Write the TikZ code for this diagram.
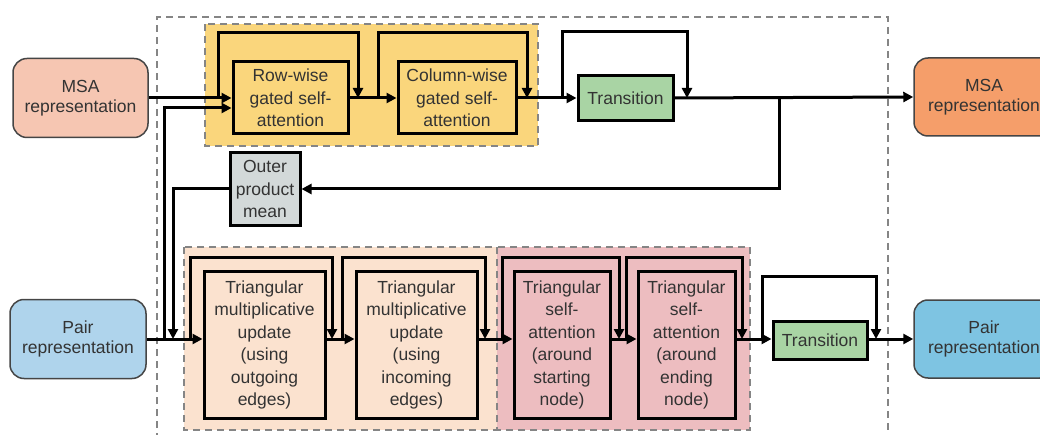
\documentclass[tikz,border=0pt]{standalone}
\usepackage{fontspec}
\setmainfont{Liberation Sans}
\usetikzlibrary{arrows.meta,calc}
\definecolor{txt}{HTML}{333333}
\definecolor{dashgray}{HTML}{858585}
\definecolor{repborder}{HTML}{454545}
\definecolor{yellowgrp}{HTML}{FAD67C}
\definecolor{peachgrp}{HTML}{FBE2CF}
\definecolor{pinkgrp}{HTML}{EDBDC0}
\definecolor{transgreen}{HTML}{A9D4A4}
\definecolor{outergray}{HTML}{D3D9D9}
\definecolor{msain}{HTML}{F6C6B2}
\definecolor{msaout}{HTML}{F59E6A}
\definecolor{pairin}{HTML}{AFD4EC}
\definecolor{pairout}{HTML}{7EC4E2}
\begin{document}
\begin{tikzpicture}[x=1pt,y=-1pt,
  conn/.style={line width=3pt,-{Triangle[length=10pt,width=10pt]}},
  blk/.style={draw=black,line width=3pt,align=center,inner sep=0pt,text=txt,
    font=\fontsize{17.5}{22.5}\selectfont},
  rep/.style={draw=repborder,line width=1.5pt,rounded corners=14pt,align=center,
    inner sep=0pt,text=txt,font=\fontsize{17.5}{20.5}\selectfont},
  grp/.style={draw=dashgray,dash pattern=on 7pt off 5pt,line width=2pt}]
\useasboundingbox (0,0) rectangle (1040,435);
% outer dashed frame
\draw[grp] (157,440) -- (157,17) -- (888,17) -- (888,440);
% groups
\draw[grp,fill=yellowgrp] (205,24) rectangle (538,146);
\draw[grp,fill=peachgrp] (184,247) rectangle (497,430);
\draw[grp,fill=pinkgrp] (497,247) rectangle (750,430);
% representation nodes
\node[rep,fill=msain,minimum width=135pt,minimum height=79pt] (msain) at (80.5,98) {MSA\\representation};
\node[rep,fill=pairin,minimum width=136pt,minimum height=79pt] (pairin) at (78,339) {Pair\\representation};
\node[rep,fill=msaout,minimum width=140pt,minimum height=78pt] (msaout) at (984,97) {MSA\\representation};
\node[rep,fill=pairout,minimum width=140pt,minimum height=78pt] (pairout) at (984,339) {Pair\\representation};
% blocks
\node[blk,fill=yellowgrp,minimum width=115pt,minimum height=72pt] (rowwise) at (290.5,98) {Row-wise\\gated self-\\attention};
\node[blk,fill=yellowgrp,minimum width=118pt,minimum height=72pt] (colwise) at (457,98) {Column-wise\\gated self-\\attention};
\node[blk,fill=transgreen,minimum width=95pt,minimum height=45pt] (trans1) at (625.5,98) {Transition};
\node[blk,fill=outergray,minimum width=70pt,minimum height=73pt] (outer) at (265,189) {Outer\\product\\mean};
\node[blk,fill=peachgrp,minimum width=121pt,minimum height=146pt] (tri1) at (264.5,345) {Triangular\\multiplicative\\update\\(using\\outgoing\\edges)};
\node[blk,fill=peachgrp,minimum width=121pt,minimum height=146pt] (tri2) at (416.5,345) {Triangular\\multiplicative\\update\\(using\\incoming\\edges)};
\node[blk,fill=pinkgrp,minimum width=96pt,minimum height=146pt] (tri3) at (562,345) {Triangular\\self-\\attention\\(around\\starting\\node)};
\node[blk,fill=pinkgrp,minimum width=97pt,minimum height=146pt] (tri4) at (686.5,345) {Triangular\\self-\\attention\\(around\\ending\\node)};
\node[blk,fill=transgreen,minimum width=94pt,minimum height=38pt] (trans2) at (820,340) {Transition};
% MSA track
\draw[conn] (msain.east) -- (rowwise.west);
\draw[conn] (rowwise.east) -- (colwise.west);
\draw[conn] (colwise.east) -- (trans1.west);
\draw[conn] (trans1.east) -- (msaout.west);
\coordinate (ms1) at (218,98);  \coordinate (me1) at (358,98);
\coordinate (ms2) at (378,98);  \coordinate (me2) at (527,98);
\coordinate (ms3) at (562,98);  \coordinate (me3) at (687,98);
\draw[conn] (ms1) -- ++(0,-65) -| (me1);
\draw[conn] (ms2) -- ++(0,-65) -| (me2);
\draw[conn] (ms3) -- ++(0,-66) -| (me3);
% outer product branch
\coordinate (b1) at (779,98);
\coordinate (j1) at (173,339);
\draw[conn] (b1) |- (outer.east);
\draw[conn] (outer.west) -| (j1);
% pair bias into row-wise
\coordinate (b2) at (164,339);
\draw[conn] (b2) |- ($(rowwise.west)+(0,10)$);
% pair track
\coordinate (pm) at (0,339);
\draw[conn] (pairin.east) -- (tri1.west |- pm);
\draw[conn] (tri1.east |- pm) -- (tri2.west |- pm);
\draw[conn] (tri2.east |- pm) -- (tri3.west |- pm);
\draw[conn] (tri3.east |- pm) -- (tri4.west |- pm);
\draw[conn] (tri4.east |- pm) -- (trans2.west |- pm);
\draw[conn] (trans2.east |- pm) -- (pairout.west);
\coordinate (ps1) at (190,339); \coordinate (pe1) at (332,339);
\coordinate (ps2) at (342,339); \coordinate (pe2) at (485,339);
\coordinate (ps3) at (502,339); \coordinate (pe3) at (619,339);
\coordinate (ps4) at (626,339); \coordinate (pe4) at (742,339);
\coordinate (ps5) at (762,339); \coordinate (pe5) at (876,339);
\draw[conn] (ps1) -- ++(0,-81) -| (pe1);
\draw[conn] (ps2) -- ++(0,-81) -| (pe2);
\draw[conn] (ps3) -- ++(0,-81) -| (pe3);
\draw[conn] (ps4) -- ++(0,-81) -| (pe4);
\draw[conn] (ps5) -- ++(0,-62) -| (pe5);
\end{tikzpicture}
\end{document}
